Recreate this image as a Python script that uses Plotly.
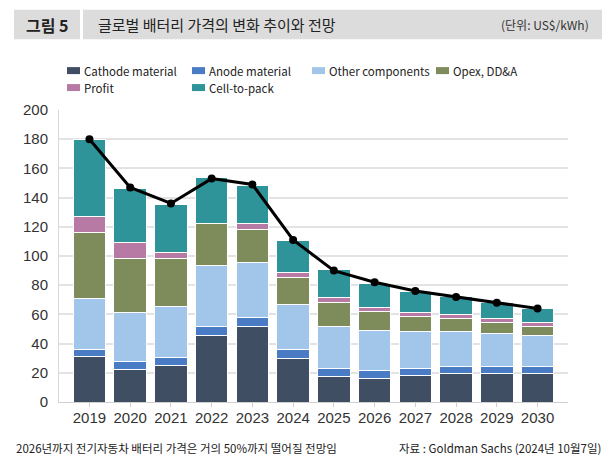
import plotly.graph_objects as go

# 연도별 배터리 가격 구성 (US$/kWh)
years = ["2019", "2020", "2021", "2022", "2023", "2024",
         "2025", "2026", "2027", "2028", "2029", "2030"]

cathode = [31, 22.5, 24.8, 45.5, 51.4, 29.7, 17.5, 16, 18, 19.3, 19.3, 19.3]
anode = [5, 5, 5.6, 6.5, 6.5, 6, 5.5, 5.8, 5.2, 5.2, 5.2, 5.2]
other = [35, 33.5, 35.2, 41.5, 37.7, 31.3, 28.8, 27.5, 25, 23.5, 22.3, 21]
opex = [45, 37, 32.5, 29, 22.5, 18.2, 16.5, 13, 10.7, 9.3, 7.7, 6.3]
profit = [11, 11, 4.3, 0, 4, 3.2, 3, 2.5, 2.5, 2.7, 3, 2.7]
cell_to_pack = [53, 37.5, 33, 31, 26, 22, 19.5, 16.3, 14, 12.3, 10.7, 9.4]

total_price = [180, 147, 136, 153, 149, 111, 90, 82, 76, 72, 68, 64]

series = [
    ("Cathode material", cathode, "#3f4e63"),
    ("Anode material", anode, "#4a7cc6"),
    ("Other components", other, "#a2c6ea"),
    ("Opex, DD&A", opex, "#7d8c5a"),
    ("Profit", profit, "#b67aa4"),
    ("Cell-to-pack", cell_to_pack, "#2e949a"),
]

KR = "Noto Sans CJK KR"
NUM = "Arial, Liberation Sans, sans-serif"

fig = go.Figure()

for nombre, valores, color in series:
    fig.add_trace(go.Bar(
        x=years,
        y=valores,
        name=nombre,
        marker=dict(color=color, line=dict(color="white", width=1)),
        showlegend=False,
    ))

# 총 가격 추이선
fig.add_trace(go.Scatter(
    x=years,
    y=total_price,
    mode="lines+markers",
    line=dict(color="black", width=3),
    marker=dict(color="black", size=8),
    showlegend=False,
))

# 페이지 좌표 (body margin 8px 포함)
OFF = 8
PAGE_W, PAGE_H = 613, 470
X0, X1, Y0, Y1 = 59, 568, 109.5, 402.3
W, H = PAGE_W - OFF, PAGE_H - OFF
pw, ph = X1 - X0, Y1 - Y0


def px_x(p):
    return (p - X0) / pw


def px_y(p):
    return (Y1 - p) / ph


# 제목 영역 회색 박스
shapes = [
    dict(type="rect", x0=px_x(14), x1=px_x(80), y0=px_y(38.5), y1=px_y(9),
         fillcolor="#dcdcdc", line=dict(width=0), layer="below"),
    dict(type="rect", x0=px_x(83), x1=px_x(602), y0=px_y(38.5), y1=px_y(9),
         fillcolor="#dcdcdc", line=dict(width=0), layer="below"),
]

annotations = [
    dict(text="<b>그림 5</b>", x=px_x(47), y=px_y(24), xanchor="center", yanchor="middle",
         font=dict(family=KR, size=16, color="#222")),
    dict(text="글로벌 배터리 가격의 변화 추이와 전망", x=px_x(96), y=px_y(24),
         xanchor="left", yanchor="middle", font=dict(family=KR, size=15, color="#222")),
    dict(text="(단위: US$/kWh)", x=px_x(591), y=px_y(24), xanchor="right", yanchor="middle",
         font=dict(family=KR, size=12, color="#333")),
    dict(text="2026년까지 전기자동차 배터리 가격은 거의 50%까지 떨어질 전망임",
         x=px_x(14), y=px_y(448), xanchor="left", yanchor="middle",
         font=dict(family=KR, size=11.5, color="#222")),
    dict(text="자료 : Goldman Sachs (2024년 10월7일)",
         x=px_x(603), y=px_y(448), xanchor="right", yanchor="middle",
         font=dict(family=KR, size=11.5, color="#222")),
]

# 범례 (2줄, 4열)
legend_cols = [67, 192, 312, 436]
legend_rows = [70, 87]
for i, (nombre, valores, color) in enumerate(series):
    lx = legend_cols[i % 4]
    ly = legend_rows[i // 4]
    shapes.append(dict(type="rect", x0=px_x(lx), x1=px_x(lx + 13),
                       y0=px_y(ly + 3.5), y1=px_y(ly - 3.5),
                       fillcolor=color, line=dict(width=0)))
    annotations.append(dict(text=nombre, x=px_x(lx + 15), y=px_y(ly),
                            xanchor="left", yanchor="middle",
                            font=dict(family=KR, size=11.5, color="#222")))

for s in shapes:
    s.update(xref="paper", yref="paper")
for a in annotations:
    a.update(xref="paper", yref="paper", showarrow=False)

fig.update_layout(
    barmode="stack",
    bargap=0.2,
    width=W,
    height=H,
    margin=dict(l=X0 - OFF, r=PAGE_W - X1, t=Y0 - OFF, b=PAGE_H - Y1),
    paper_bgcolor="white",
    plot_bgcolor="white",
    shapes=shapes,
    annotations=annotations,
    showlegend=False,
    xaxis=dict(
        showline=True, linecolor="#d0d0d0", linewidth=1,
        ticks="outside", tickcolor="#d0d0d0", ticklen=4,
        ticklabelstandoff=-2,
        tickfont=dict(family=NUM, size=15, color="#333"),
    ),
    yaxis=dict(
        range=[0, 200], dtick=20,
        showgrid=True, gridcolor="#e3e3e3", gridwidth=1.5,
        showline=True, linecolor="#d8d8d8", linewidth=1,
        zeroline=False,
        ticklabelstandoff=7,
        tickfont=dict(family=NUM, size=15, color="#333"),
    ),
)

fig.write_html("out.html")
